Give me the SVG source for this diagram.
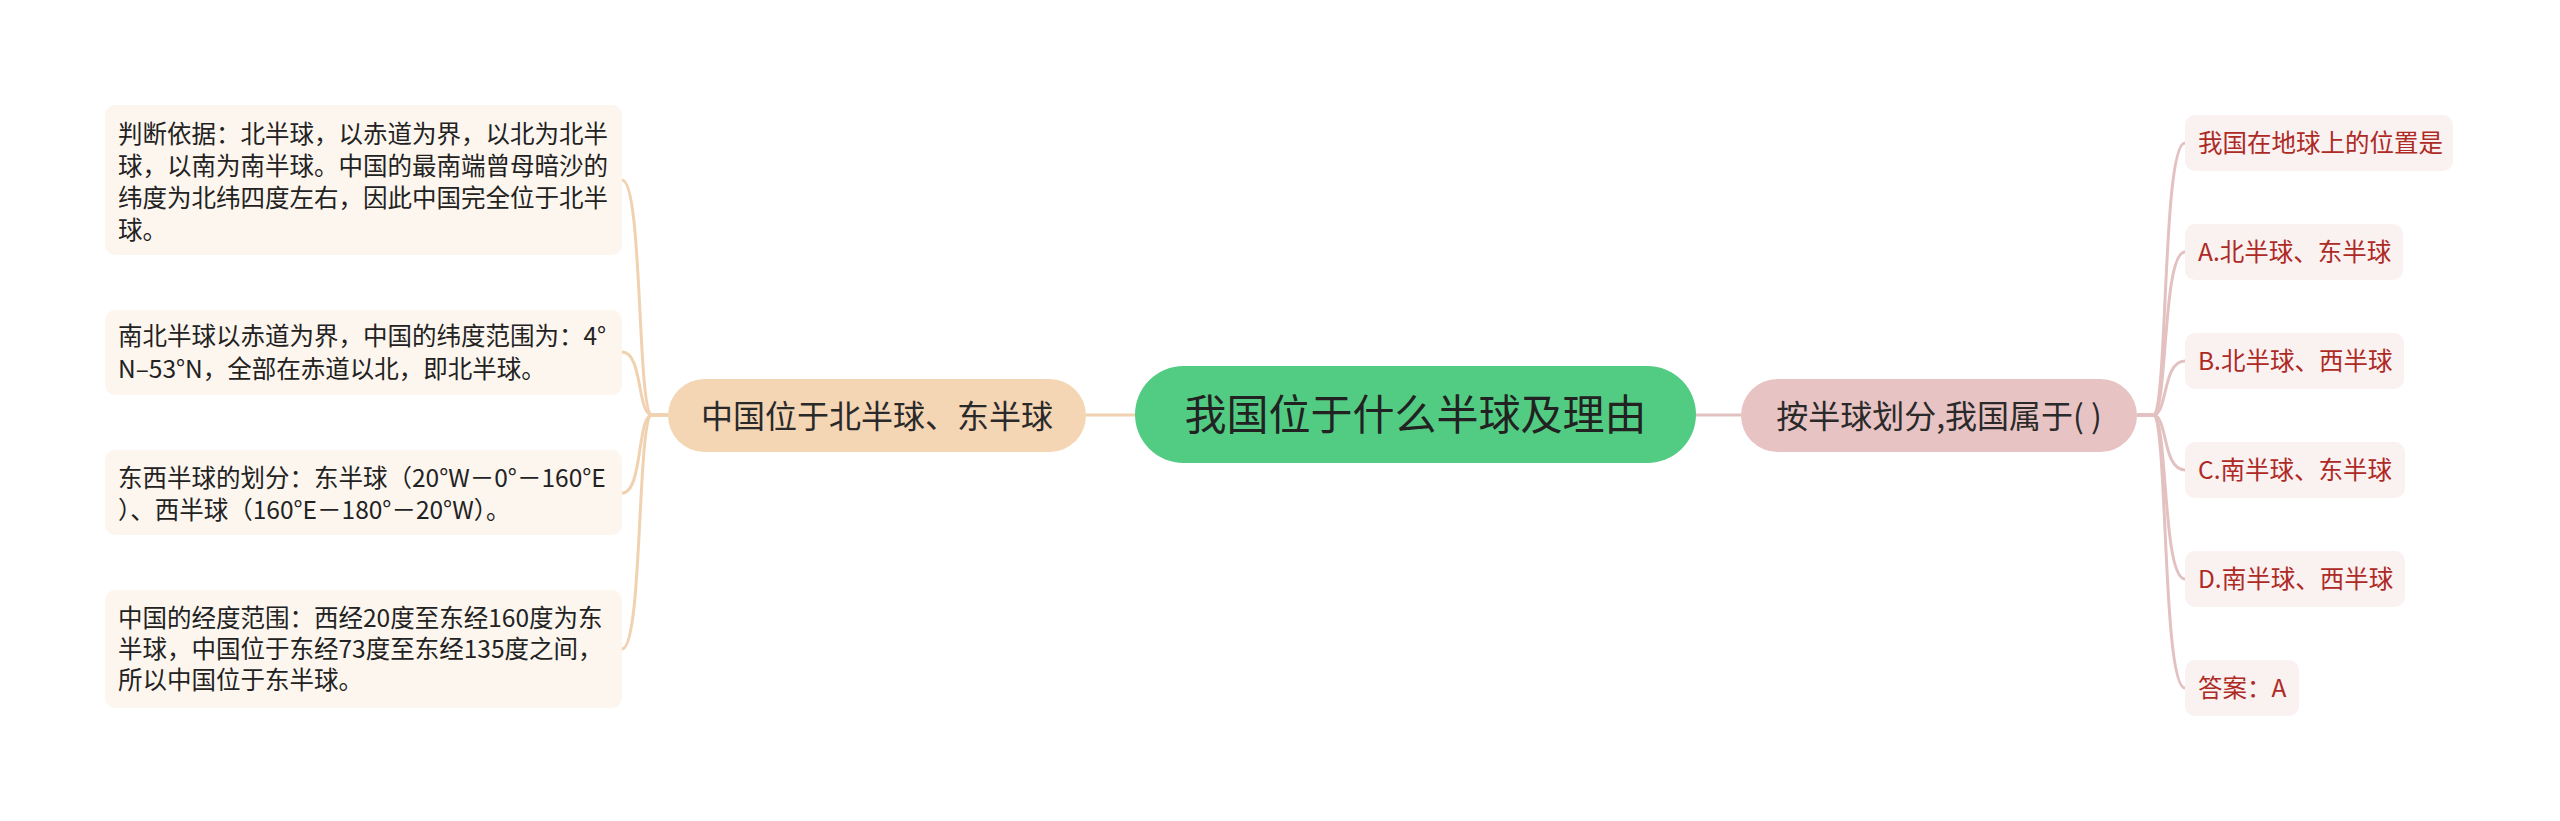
<svg xmlns="http://www.w3.org/2000/svg" width="2560" height="821" viewBox="0 0 2560 821">
<style>
text{font-family:"Noto Sans CJK SC","Noto Sans",sans-serif}
.root{fill:#52CC82}
.lm{fill:#F4D5B4}
.rm{fill:#E8C3C3}
.ll{fill:#FDF6EF}
.rl{fill:#FAF1F1}
.tr{font-size:42px;fill:#222;text-anchor:middle}
.tm{font-size:32px;fill:#2a2a2a;text-anchor:middle}
.tl{font-size:24.5px;fill:#222}
.trl{font-size:24.5px;fill:#AE2A25}
.cl{fill:none;stroke:#F0D2B0;stroke-width:3}
.cr{fill:none;stroke:#E4C1C1;stroke-width:3}
</style>
<rect width="2560" height="821" fill="#ffffff"/>
<g id="connectors">
<line class="cl" x1="1135" y1="415" x2="1086" y2="415"/>
<line class="cr" x1="1695" y1="415" x2="1741" y2="415"/>
<path class="cl" d="M668,415 L652,415 C637,415 643,180 622,180"/>
<path class="cl" d="M668,415 L652,415 C637,415 643,352 622,352"/>
<path class="cl" d="M668,415 L652,415 C637,415 643,493 622,493"/>
<path class="cl" d="M668,415 L652,415 C637,415 643,649 622,649"/>
<path class="cr" d="M2137,415 L2153,415 C2168,415 2162,143 2185,143"/>
<path class="cr" d="M2137,415 L2153,415 C2168,415 2162,252 2185,252"/>
<path class="cr" d="M2137,415 L2153,415 C2168,415 2162,361 2185,361"/>
<path class="cr" d="M2137,415 L2153,415 C2168,415 2162,470 2185,470"/>
<path class="cr" d="M2137,415 L2153,415 C2168,415 2162,579 2185,579"/>
<path class="cr" d="M2137,415 L2153,415 C2168,415 2162,688 2185,688"/>
</g>
<g id="root">
<rect class="root" x="1135" y="366" width="561" height="97" rx="48.5"/>
<text class="tr" x="1415.5" y="430">我国位于什么半球及理由</text>
</g>
<g id="left-main">
<rect class="lm" x="668" y="379" width="418" height="73" rx="36.5"/>
<text class="tm" x="877" y="427.5">中国位于北半球、东半球</text>
</g>
<g id="right-main">
<rect class="rm" x="1741" y="379" width="396" height="73" rx="36.5"/>
<text class="tm" x="1939" y="427.5">按半球划分,我国属于( )</text>
</g>
<g id="left-leaf-1">
<rect class="ll" x="105" y="105" width="517" height="150" rx="10"/>
<text class="tl" x="118" y="143">判断依据：北半球，以赤道为界，以北为北半</text>
<text class="tl" x="118" y="175">球，以南为南半球。中国的最南端曾母暗沙的</text>
<text class="tl" x="118" y="207">纬度为北纬四度左右，因此中国完全位于北半</text>
<text class="tl" x="118" y="239">球。</text>
</g>
<g id="left-leaf-2">
<rect class="ll" x="105" y="310" width="517" height="85" rx="10"/>
<text class="tl" x="118" y="345">南北半球以赤道为界，中国的纬度范围为：4°</text>
<text class="tl" x="118" y="378">N–53°N，全部在赤道以北，即北半球。</text>
</g>
<g id="left-leaf-3">
<rect class="ll" x="105" y="450" width="517" height="85" rx="10"/>
<text class="tl" x="118" y="487">东西半球的划分：东半球（20°W－0°－160°E</text>
<text class="tl" x="118" y="519">）、西半球（160°E－180°－20°W）。</text>
</g>
<g id="left-leaf-4">
<rect class="ll" x="105" y="590" width="517" height="118" rx="10"/>
<text class="tl" x="118" y="627">中国的经度范围：西经20度至东经160度为东</text>
<text class="tl" x="118" y="658">半球，中国位于东经73度至东经135度之间，</text>
<text class="tl" x="118" y="689">所以中国位于东半球。</text>
</g>
<g id="right-leaf-1">
<rect class="rl" x="2185" y="115" width="268" height="56" rx="10"/>
<text class="trl" x="2198" y="152">我国在地球上的位置是</text>
</g>
<g id="right-leaf-2">
<rect class="rl" x="2185" y="224" width="218" height="56" rx="10"/>
<text class="trl" x="2198" y="261">A.北半球、东半球</text>
</g>
<g id="right-leaf-3">
<rect class="rl" x="2185" y="333" width="219" height="56" rx="10"/>
<text class="trl" x="2198" y="370">B.北半球、西半球</text>
</g>
<g id="right-leaf-4">
<rect class="rl" x="2185" y="442" width="220" height="56" rx="10"/>
<text class="trl" x="2198" y="479">C.南半球、东半球</text>
</g>
<g id="right-leaf-5">
<rect class="rl" x="2185" y="551" width="220" height="56" rx="10"/>
<text class="trl" x="2198" y="588">D.南半球、西半球</text>
</g>
<g id="right-leaf-6">
<rect class="rl" x="2185" y="660" width="114" height="56" rx="10"/>
<text class="trl" x="2198" y="697">答案：A</text>
</g>
</svg>
